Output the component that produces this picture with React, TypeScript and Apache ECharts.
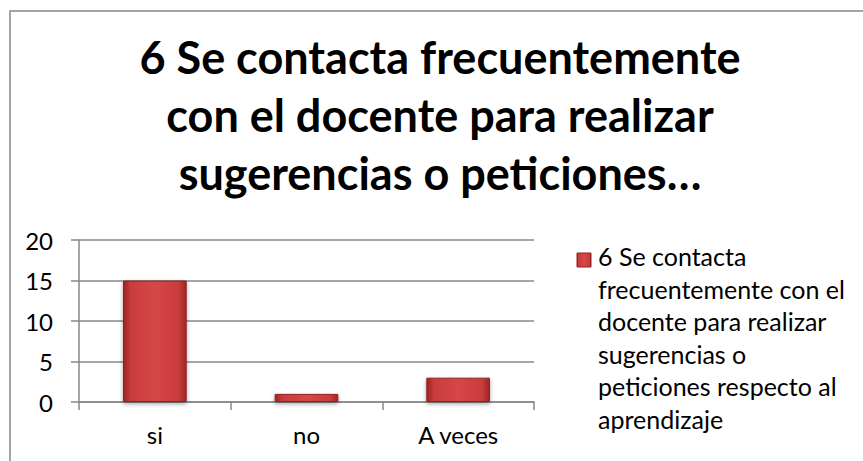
import React, { useEffect, useRef } from "react";
import * as echarts from "echarts";

const categories = ["si", "no", "A veces"];
const values = [15, 1, 3];
const seriesName =
  "6 Se contacta frecuentemente con el docente para realizar sugerencias o peticiones respecto al aprendizaje";
const legendLines = [
  "6 Se contacta",
  "frecuentemente con el",
  "docente para realizar",
  "sugerencias o",
  "peticiones respecto al",
  "aprendizaje",
];
const titleLines = [
  "6 Se contacta frecuentemente",
  "con el docente para realizar",
  "sugerencias o peticiones…",
];

const FONT = "Lato, 'Open Sans', sans-serif";

export default function App() {
  const ref = useRef<HTMLDivElement>(null);
  useEffect(() => {
    if (!ref.current) return;
    const chart = echarts.init(ref.current, undefined, { renderer: "svg" });
    const barGrad = new echarts.graphic.LinearGradient(0, 0, 1, 0, [
      { offset: 0, color: "#9c2526" },
      { offset: 0.12, color: "#c93c3d" },
      { offset: 0.5, color: "#d64748" },
      { offset: 0.88, color: "#c93c3d" },
      { offset: 1, color: "#9c2526" },
    ]);
    chart.setOption({
      animation: false,
      backgroundColor: "#ffffff",
      title: {
        text: titleLines.join("\n"),
        left: 440,
        top: 28,
        padding: 0,
        textAlign: "center",
        textStyle: {
          fontFamily: FONT,
          fontWeight: "bold",
          fontSize: 45,
          lineHeight: 58,
          color: "#000",
        },
      },
      grid: { left: 79, right: 329, top: 240, bottom: 59, containLabel: false },
      xAxis: {
        type: "category",
        data: categories,
        axisLine: { lineStyle: { color: "#888", width: 1.5 } },
        axisTick: { show: true, length: 8, lineStyle: { color: "#888", width: 1.5 } },
        axisLabel: { fontFamily: FONT, fontSize: 24, color: "#000", margin: 20 },
      },
      yAxis: {
        type: "value",
        min: 0,
        max: 20,
        interval: 5,
        axisLine: { show: true, lineStyle: { color: "#888", width: 1.5 } },
        axisTick: { show: true, length: 8, lineStyle: { color: "#888", width: 1.5 } },
        splitLine: { lineStyle: { color: "#888", width: 1.5 } },
        axisLabel: { fontFamily: FONT, fontSize: 24, color: "#000", margin: 26 },
      },
      series: [
        {
          type: "bar",
          name: seriesName,
          data: values,
          barWidth: "42%",
          itemStyle: {
            color: barGrad,
            borderColor: "#8e2223",
            borderWidth: 1,
            shadowColor: "rgba(0,0,0,0.35)",
            shadowBlur: 4,
            shadowOffsetY: 2,
          },
        },
      ],
      graphic: [
        {
          type: "rect",
          shape: { x: 10, y: 11, width: 900, height: 500 },
          style: { fill: "none", stroke: "#888", lineWidth: 1.5 },
          silent: true,
          z: -1,
        },
        {
          type: "rect",
          shape: { x: 577, y: 253, width: 14, height: 14 },
          style: { fill: barGrad, stroke: "#8e2223", lineWidth: 1 },
        },
        {
          type: "text",
          x: 598,
          y: 240,
          style: {
            text: legendLines.join("\n"),
            fontFamily: FONT,
            fontSize: 25,
            lineHeight: 32.5,
            fill: "#000",
          },
        },
      ],
    });
    return () => chart.dispose();
  }, []);
  return (
    <div
      ref={ref}
      style={{ position: "fixed", left: 0, top: 0, width: 863, height: 461 }}
    />
  );
}
